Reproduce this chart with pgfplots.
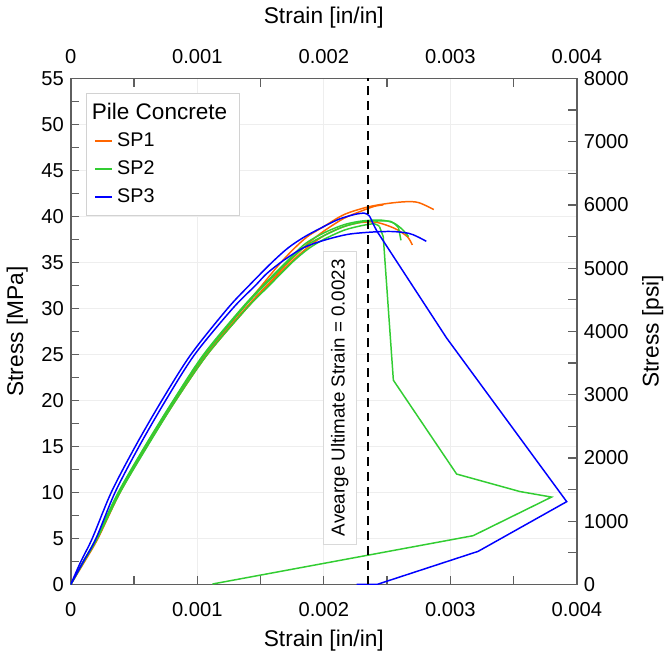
\documentclass[border=0pt]{standalone}
\usepackage{pgfplots}
\pgfplotsset{compat=1.18}
\usepackage{fontspec}
\setmainfont{Liberation Sans}

\definecolor{cOrange}{RGB}{255,102,0}
\definecolor{cGreen}{RGB}{50,205,50}
\definecolor{cBlue}{RGB}{0,0,255}
\definecolor{axgray}{RGB}{95,95,95}

\pgfplotsset{
  frame/.style={
    width=9cm, height=9cm, scale only axis,
    xmin=0, xmax=0.004,
    xtick={0,0.001,0.002,0.003,0.004},
    xticklabels={0,0.001,0.002,0.003,0.004},
    minor x tick num=1, minor y tick num=1,
    tick align=inside,
    major tick length=4.3pt, minor tick length=4.3pt,
    tick style={axgray, line width=0.6pt},
    axis line style={axgray, line width=0.8pt},
    tick label style={font=\fontsize{10.2}{12}\selectfont},
    label style={font=\fontsize{11.5}{13}\selectfont},
    /pgf/number format/assume math mode=true,
    /pgf/number format/1000 sep={},
    scaled ticks=false,
  },
}

\begin{document}
\begin{tikzpicture}
% psi axis (right) and top strain axis
\begin{axis}[
  frame,
  ymin=0, ymax=8000,
  ytick={0,1000,...,8000},
  xtick pos=right, ytick pos=right,
  xticklabel pos=right, yticklabel pos=right,
  xticklabel style={yshift=4pt},
  xlabel style={yshift=4pt},
  xlabel={Strain [in/in]},
  ylabel={Stress [psi]},
]
\end{axis}

\begin{axis}[
  frame,
  ymin=0, ymax=55,
  ytick={0,5,...,55},
  xtick pos=left, ytick pos=left,
  xticklabel style={yshift=-5.5pt},
  grid=major, grid style={gray!13, line width=0.4pt},
  xlabel={Strain [in/in]},
  ylabel={Stress [MPa]},
  legend style={at={(rel axis cs:0.03,0.972)}, anchor=north west,
    draw=gray!35, fill=white, font=\fontsize{10}{12}\selectfont,
    row sep=1.5pt, inner xsep=4pt, inner ysep=3pt},
  legend cell align=left,
  legend image code/.code={\draw[#1, line width=1.1pt] (0cm,0cm) -- (0.3cm,0cm);},
  every axis plot/.append style={line width=0.75pt},
]
\addlegendimage{empty legend}
\addlegendentry{\hspace*{-0.45cm}\fontsize{11.4}{13}\selectfont Pile Concrete}

% SP1
\addplot[cOrange, smooth, tension=0.5] coordinates {
(0,0)(0.0001,2.5)(0.00021,5)(0.000385,10)(0.000595,15)(0.00082,20)(0.00107,25)
(0.00136,30)(0.00151,32.5)(0.00163,34.5)(0.00175,36.3)(0.00187,37.8)(0.002,38.9)
(0.00216,40.2)(0.00234,41.0)(0.0025,41.4)(0.00265,41.6)(0.00275,41.5)(0.00287,40.75)};
\addlegendentry{SP1}
\addplot[cOrange, smooth, tension=0.5, forget plot] coordinates {
(0,0)(0.00011,2.5)(0.000215,5)(0.00039,10)(0.0006,15)(0.000825,20)(0.001075,25)
(0.00138,30)(0.00155,32.5)(0.00172,35)(0.00187,37.0)(0.002,38.4)(0.00216,39.8)
(0.0023,40.6)(0.0024,41.1)(0.00247,41.25)};
\addplot[cOrange, smooth, tension=0.5, forget plot] coordinates {
(0,0)(0.0001,2.5)(0.00021,5)(0.000385,10)(0.0006,15)(0.00083,20)(0.00108,25)
(0.00139,30)(0.00156,32.5)(0.00174,35)(0.00187,36.6)(0.002,37.9)(0.00216,38.9)
(0.0023,39.35)(0.00242,39.35)(0.00256,38.7)(0.00266,37.8)(0.0027,36.9)};

% SP2
\addplot[cGreen, smooth, tension=0.5] coordinates {
(0,0)(0.0001,2.5)(0.000205,5)(0.00038,10)(0.00059,15)(0.000815,20)(0.00106,25)
(0.00136,30)(0.00153,32.5)(0.00171,35)(0.00186,36.8)(0.002,37.9)(0.00216,38.9)
(0.00232,39.45)(0.00242,39.5)(0.00253,39.45)(0.00259,38.8)};
\addlegendentry{SP2}
\addplot[cGreen, forget plot] coordinates {(0.00259,38.8)(0.00261,37.4)};
\addplot[cGreen, smooth, tension=0.5, forget plot] coordinates {
(0,0)(0.000105,2.5)(0.00021,5)(0.00039,10)(0.000605,15)(0.00083,20)(0.00108,25)
(0.00139,30)(0.00157,32.5)(0.00175,35)(0.00188,36.5)(0.002,37.5)(0.00216,38.5)
(0.0023,39.0)(0.0024,39.2)(0.00244,38.9)};
\addplot[cGreen, forget plot] coordinates {
(0.00244,38.9)(0.00247,37.8)(0.00255,22.2)(0.00305,12.0)
(0.00355,10.1)(0.0038,9.5)(0.00318,5.3)(0.00112,0.05)};
\addplot[cGreen, smooth, tension=0.5, forget plot] coordinates {
(0,0)(0.0001,2.5)(0.0002,5)(0.000375,10)(0.000585,15)(0.00081,20)(0.00105,25)
(0.00135,30)(0.00152,32.5)(0.0017,35)(0.00185,37.0)(0.002,38.2)(0.00216,39.1)
(0.0023,39.5)(0.00245,39.6)(0.00255,39.3)(0.00262,38.6)(0.00267,37.8)};

% SP3
\addplot[cBlue, smooth, tension=0.5] coordinates {
(0,0)(0.00008,2.5)(0.00017,5)(0.00032,10)(0.00051,15)(0.00072,20)(0.00095,25)
(0.00124,30)(0.00141,32.5)(0.00159,35)(0.00172,36.6)(0.00185,37.8)(0.002,38.9)
(0.00212,39.7)(0.00224,40.2)(0.00232,40.35)(0.00236,40.05)(0.00239,39.2)(0.00242,38.4)};
\addlegendentry{SP3}
\addplot[cBlue, forget plot] coordinates {
(0.00242,38.4)(0.00297,26.8)(0.00392,9.0)(0.00322,3.6)(0.00242,0)(0.00226,0)};
\addplot[cBlue, smooth, tension=0.5, forget plot] coordinates {
(0,0)(0.0001,2.5)(0.0002,5)(0.00035,10)(0.00054,15)(0.00075,20)(0.00098,25)
(0.00128,30)(0.00146,32.5)(0.00155,33.8)(0.00168,35.2)(0.00184,36.6)(0.002,37.4)
(0.00219,38.05)(0.00238,38.3)(0.00254,38.36)(0.00267,38.17)(0.00274,37.8)(0.00281,37.3)};

% average ultimate strain
\addplot[black, line width=0.7pt, dash pattern=on 4.5pt off 3pt, forget plot]
  coordinates {(0.00235,0)(0.00235,55)};
\node[rotate=90, fill=white, draw=gray!30, inner sep=4pt,
  font=\fontsize{9.5}{11}\selectfont]
  at (axis cs:0.002126,20.3) {Avearge Ultimate Strain = 0.0023};
\end{axis}
\end{tikzpicture}
\end{document}
